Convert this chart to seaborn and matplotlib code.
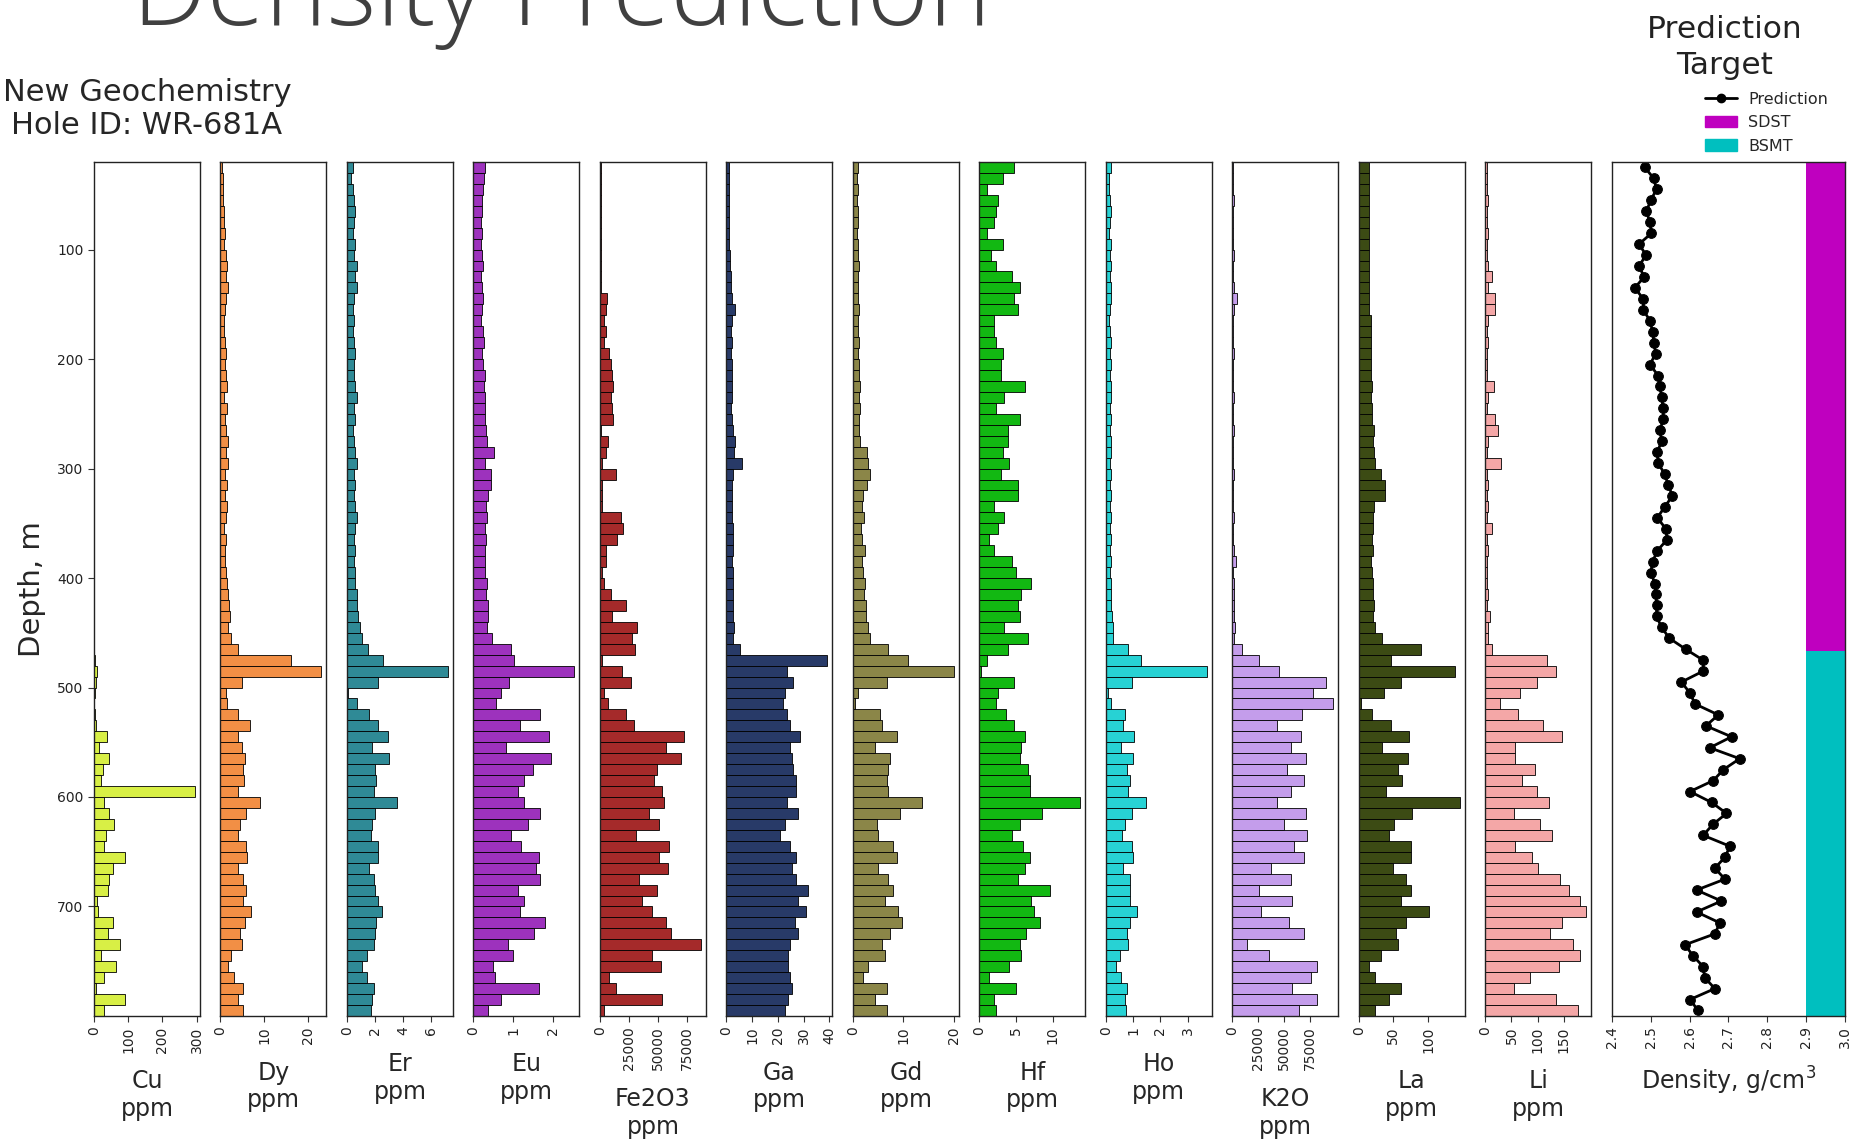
import numpy as np
import pandas as pd
import matplotlib
matplotlib.use("Agg")
import matplotlib.pyplot as plt
import seaborn as sns
from matplotlib.lines import Line2D
from matplotlib.patches import Patch

# ---------------- data ----------------
depth = np.arange(25, 800, 10)          # mid-depth of each 10 m sample interval, m

cu = [0] * 45 + [3, 10, 5, 2, 0, 2, 5, 38, 15, 45, 25, 20, 295, 30, 45, 60, 35, 30, 90, 55,
                 45, 40, 10, 12, 55, 40, 75, 20, 65, 30, 5, 90, 30]
dy = [0.3, 0.5, 0.5, 0.6, 0.7, 0.8, 1.0, 0.8, 1.2, 1.5, 1.3, 1.8, 1.2, 1.0, 0.8, 0.9, 1.0, 1.3, 1.0, 1.2,
      1.5, 0.9, 1.6, 1.0, 1.3, 1.7, 1.2, 1.8, 1.1, 1.4, 1.0, 1.5, 1.2, 0.9, 1.3, 1.1, 1.0, 1.2, 1.4, 1.8,
      2.0, 2.2, 1.8, 2.5,
      4, 16, 23, 5, 1.2, 1.5, 4, 6.7, 4, 5, 5.5, 5.1, 5.4, 4, 9, 5.9, 4.4, 4, 5.9, 6.1,
      4, 5.1, 5.9, 5.1, 7, 5.5, 4.4, 5, 2.5, 1.7, 3.2, 5.1, 4, 5.1]
er = [0.4, 0.3, 0.4, 0.5, 0.6, 0.5, 0.4, 0.6, 0.5, 0.7, 0.6, 0.7, 0.5, 0.4, 0.5, 0.4, 0.5, 0.6, 0.5, 0.5,
      0.6, 0.7, 0.5, 0.6, 0.4, 0.5, 0.6, 0.7, 0.5, 0.6, 0.5, 0.6, 0.7, 0.6, 0.5, 0.6, 0.5, 0.6, 0.6, 0.7,
      0.7, 0.8, 0.9, 1.1,
      1.5, 2.6, 7.2, 2.2, 0.1, 0.7, 1.6, 2.2, 2.9, 1.8, 3.0, 2.0, 2.1, 1.9, 3.6, 2.0, 1.8, 1.7, 2.2, 2.2,
      1.6, 1.9, 2.0, 2.2, 2.5, 2.1, 2.0, 1.9, 1.4, 1.1, 1.4, 1.9, 1.8, 1.7]
eu = [0.3, 0.26, 0.24, 0.22, 0.22, 0.2, 0.22, 0.2, 0.22, 0.24, 0.2, 0.22, 0.25, 0.22, 0.2, 0.24, 0.26, 0.22,
      0.25, 0.28, 0.26, 0.3, 0.28, 0.3, 0.32, 0.35, 0.52, 0.3, 0.45, 0.44, 0.36, 0.32, 0.34, 0.3, 0.32, 0.3,
      0.28, 0.3, 0.34, 0.33, 0.36, 0.38, 0.35, 0.46,
      0.96, 1.02, 2.55, 0.9, 0.7, 0.58, 1.67, 1.17, 1.92, 0.83, 1.96, 1.5, 1.29, 1.12, 1.29, 1.69, 1.37, 0.96,
      1.2, 1.65, 1.58, 1.69, 1.12, 1.29, 1.17, 1.81, 1.54, 0.87, 1.0, 0.5, 0.54, 1.65, 0.7, 0.37]
fe2o3 = [1000] * 12 + [5700, 4900, 3500, 4900, 3500, 7800, 9200, 10600, 11200, 9200, 10600, 11000, 600, 7000,
                       5300, 1400, 13500, 2000, 1400, 2000, 17800, 19800, 14900, 5300, 4900, 2000, 3500, 9200,
                       22100, 10600, 32100, 27800, 29800, 2000, 19200, 26400, 3500, 7000, 22100, 29300, 72300,
                       56500, 69400, 49400, 46500, 53700, 55100, 42200, 50800, 30700, 59400, 50800, 58800,
                       33600, 49400, 36400, 44500, 56500, 60800, 86700, 45100, 52200, 7800, 13500, 53100, 3500]
ga = [1.0, 1.0, 1.0, 0.9, 1.0, 1.1, 1.0, 1.2, 1.4, 1.5, 1.6, 1.8, 2.0, 3.4, 2.2, 1.8, 2.0, 1.9, 2.1, 2.2,
      2.0, 2.1, 1.9, 2.2, 2.4, 3.4, 3.0, 5.9, 2.4, 2.2, 2.0, 2.1, 2.3, 2.5, 2.6, 2.4, 2.3, 2.5, 2.6, 2.4,
      2.7, 2.5, 2.8, 2.7,
      5.3, 39.2, 23.4, 26, 22.7, 22, 23.4, 24.6, 28.5, 24.6, 25.3, 26, 27.2, 27.2, 23.4, 27.9, 22.7, 20.8,
      24.6, 27.2, 25.3, 27.2, 31.7, 27.9, 31.1, 26.6, 27.9, 24.6, 24, 24, 24.6, 25.3, 24, 22.7]
gd = [1.0, 0.9, 1.0, 0.8, 1.0, 1.1, 0.9, 1.0, 1.0, 1.2, 1.0, 1.1, 1.0, 1.2, 1.0, 1.1, 1.2, 1.0, 1.3, 1.2,
      1.4, 1.3, 1.5, 1.2, 1.3, 1.5, 2.7, 3.0, 3.3, 2.8, 2.0, 1.8, 2.2, 1.7, 1.9, 2.3, 1.8, 2.0, 2.4, 2.2,
      2.5, 2.6, 3.0, 3.3,
      7, 11, 20, 6.7, 1, 0.5, 5.3, 5.7, 8.7, 4.3, 7.3, 7, 6.7, 7, 13.7, 9.3, 4.7, 5, 8, 8.7,
      5, 7, 8, 6.3, 9, 9.7, 7.3, 5.7, 6.3, 3, 2, 6.7, 4.3, 6.7]
hf = [4.8, 3.2, 1.1, 2.5, 2.3, 2.0, 1.1, 3.2, 1.6, 2.3, 4.4, 5.6, 4.8, 5.3, 2.0, 2.0, 2.3, 3.2, 3.0, 3.0,
      6.2, 3.4, 2.3, 5.6, 3.9, 3.9, 3.2, 4.1, 3.0, 5.3, 5.3, 2.0, 3.3, 2.5, 1.3, 2.0, 4.4, 5.0, 7.1, 5.7,
      5.3, 5.5, 3.4, 6.7, 3.9, 1.1, 0.2, 4.8, 2.5, 2.3, 3.7, 4.8, 6.2, 5.7, 5.6, 6.7, 6.9, 6.9, 13.8, 8.5,
      5.5, 4.4, 6.0, 6.9, 6.2, 5.3, 9.7, 7.1, 7.4, 8.3, 6.4, 5.5, 5.7, 4.1, 1.3, 5.0, 2.0, 2.3]
ho = [0.2, 0.1, 0.1, 0.15, 0.2, 0.15, 0.1, 0.2, 0.15, 0.2, 0.15, 0.2, 0.2, 0.15, 0.1, 0.15, 0.2, 0.15, 0.2,
      0.15, 0.2, 0.2, 0.15, 0.2, 0.15, 0.2, 0.2, 0.15, 0.2, 0.15, 0.2, 0.15, 0.2, 0.15, 0.2, 0.15, 0.2, 0.15,
      0.2, 0.2, 0.2, 0.22, 0.25, 0.26,
      0.82, 1.3, 3.7, 0.94, 0.07, 0.2, 0.7, 0.63, 1.04, 0.57, 1.0, 0.76, 0.88, 0.82, 1.48, 0.94, 0.7, 0.6,
      0.94, 1.0, 0.63, 0.88, 0.88, 0.88, 1.13, 0.88, 0.76, 0.82, 0.51, 0.38, 0.57, 0.76, 0.7, 0.72]
k2o = [800, 900, 1000, 1200, 1000, 1100, 900, 1000, 1200, 1100, 1000, 1200, 4800, 1200, 1000, 1100, 1000,
       1200, 1100, 1000, 1100, 1200, 1000, 1100, 1200, 1000, 1100, 1000, 1200, 1100, 1000, 1100, 1200, 1000,
       1100, 1200, 3500, 1100, 1200, 1500, 1400, 1500, 2500, 1600,
       9700, 26000, 45000, 90700, 77800, 98000, 68000, 43700, 66400, 56700, 71300, 53500, 69700, 56700,
       43700, 71300, 50200, 72900, 60000, 69700, 37300, 56700, 26000, 58300, 27500, 55000, 69700, 14500,
       35600, 82600, 76100, 58300, 82600, 64800]
la = [15, 14, 14, 15, 14, 15, 14, 15, 15, 14, 15, 14, 15, 15, 17, 17, 18, 17, 18, 18, 19, 18, 19, 19,
      22, 21, 22, 23, 32, 38, 38, 22, 20, 21, 19, 20, 18, 19, 20, 21, 22, 20, 24, 34,
      90, 46, 139, 61, 36.5, 2.4, 19.5, 46, 73, 34, 70.6, 56, 63, 39, 146, 77, 51, 44, 75.5, 75.5,
      48.7, 68, 75.5, 61, 101, 68, 53.6, 56, 31.7, 14.6, 24, 61, 44, 24]
li = [4, 3, 4, 5, 3, 4, 5, 4, 4, 6, 12, 5, 18, 18, 5, 4, 5, 4, 3, 4, 17, 5, 4, 18, 25, 5, 4, 30, 4, 5,
      4, 5, 4, 12, 4, 5, 4, 3, 4, 5, 4, 8, 5, 4.5,
      12, 117, 136, 98, 66, 28, 63, 111, 146, 57, 57, 95, 70, 98, 121, 54, 105, 127, 57, 89,
      101, 143, 159, 181, 193, 146, 124, 168, 181, 140, 85, 54, 136, 178]

density_pred = [2.485, 2.508, 2.515, 2.500, 2.489, 2.498, 2.502, 2.470, 2.488, 2.470,
                2.483, 2.459, 2.481, 2.481, 2.498, 2.505, 2.508, 2.513, 2.498, 2.519,
                2.524, 2.528, 2.532, 2.532, 2.524, 2.528, 2.517, 2.519, 2.536, 2.545,
                2.556, 2.536, 2.517, 2.539, 2.542, 2.517, 2.505, 2.500, 2.511, 2.513,
                2.515, 2.515, 2.528, 2.548, 2.590, 2.635, 2.635, 2.579, 2.601, 2.614,
                2.674, 2.642, 2.708, 2.652, 2.729, 2.687, 2.661, 2.601, 2.657, 2.695,
                2.660, 2.635, 2.704, 2.691, 2.665, 2.691, 2.618, 2.682, 2.618, 2.678,
                2.665, 2.588, 2.609, 2.635, 2.639, 2.665, 2.601, 2.622]

target_names = ["SDST", "BSMT"]
target_top = [20, 467]
target_bottom = [467, 800]

elements = ["Cu", "Dy", "Er", "Eu", "Fe2O3", "Ga", "Gd", "Hf", "Ho", "K2O", "La", "Li"]
panel_values = [cu, dy, er, eu, fe2o3, ga, gd, hf, ho, k2o, la, li]
panel_ticks = [[0, 100, 200, 300], [0, 10, 20], [0, 2, 4, 6], [0, 1, 2], [0, 25000, 50000, 75000],
               [0, 10, 20, 30, 40], [0, 10, 20], [0, 5, 10], [0, 1, 2, 3], [0, 25000, 50000, 75000],
               [0, 50, 100], [0, 50, 100, 150]]
depth_ticks = [100, 200, 300, 400, 500, 600, 700]
density_ticks = [2.4, 2.5, 2.6, 2.7, 2.8, 2.9, 3.0]

panel_colors = ["#d8ef45", "#f28f45", "#2f8a96", "#9d32bd", "#a52a2a", "#283a68", "#8b8648",
                "#12b812", "#27d2d4", "#c49deb", "#3c4b14", "#f4a7a7"]
target_colors = ["#bf00bf", "#00bfbf"]

df = pd.DataFrame({"depth": depth, **dict(zip(elements, panel_values))})

# ---------------- figure ----------------
sns.set_theme(style="ticks")
plt.rcParams['font.family'] = ['DejaVu Sans']

W, H = 1853, 1145
fig, axes = plt.subplots(1, 13, sharey=True, figsize=(W / 100, H / 100), dpi=100,
                         gridspec_kw=dict(width_ratios=[1] * 12 + [2.2], wspace=0.177))
fig.subplots_adjust(left=0.0507, right=0.9957, top=0.8585, bottom=0.1127)

for i, (ax, el, col, ticks) in enumerate(zip(axes[:12], elements, panel_colors, panel_ticks)):
    sns.histplot(data=df, y="depth", weights=el, binwidth=10, binrange=(20, 800), color=col,
                 edgecolor="black", linewidth=0.6, alpha=1, ax=ax)
    ax.set_xticks(ticks)
    ax.set_xticklabels([str(t) for t in ticks], rotation=90, fontsize=10)
    ax.set_xlabel(el + "\nppm", fontsize=17, labelpad=12)
    ax.set_ylabel("")
    if i > 0:
        ax.tick_params(axis="y", left=False, labelleft=False)

axd = axes[12]
for name, top, bot, col in zip(target_names, target_top, target_bottom, target_colors):
    axd.fill_betweenx([top, bot], 2.9, 3.0, color=col, linewidth=0)
sns.lineplot(x=density_pred, y=depth, sort=False, estimator=None, marker="o", markersize=7,
             markeredgecolor="black", color="black", linewidth=2, ax=axd)
axd.set_xlim(2.4, 3.0)
axd.set_xticks(density_ticks)
axd.set_xticklabels([f"{t:.1f}" for t in density_ticks], rotation=90, fontsize=10)
axd.set_xlabel("Density, g/cm$^3$", fontsize=17, labelpad=12)
axd.set_ylabel("")
axd.tick_params(axis="y", left=False, labelleft=False)

ax0 = axes[0]
ax0.set_ylim(800, 20)
ax0.set_yticks(depth_ticks)
ax0.set_yticklabels([str(t) for t in depth_ticks], fontsize=10)
ax0.set_ylabel("Depth, m", fontsize=21, labelpad=8)
ax0.set_title("New Geochemistry\nHole ID: WR-681A", fontsize=22, pad=20)

for ax in axes:
    for sp in ax.spines.values():
        sp.set_visible(True)
        sp.set_linewidth(1.0)
        sp.set_color("#222222")
    ax.tick_params(axis="both", length=4, width=0.8, color="#333333", labelcolor="#222222")

# legend: title centred above the entries
fig.text(1725 / W, 1 - 15 / H, "Prediction\nTarget", fontsize=22.5, ha="center", va="top",
         multialignment="center", linespacing=1.3, color="#222222")
handles = [Line2D([], [], color="black", marker="o", lw=2, markersize=6, label="Prediction"),
           Patch(color=target_colors[0], label=target_names[0]),
           Patch(color=target_colors[1], label=target_names[1])]
fig.legend(handles=handles, loc="upper left", bbox_to_anchor=(1705 / W, 1 - 92 / H),
           frameon=False, fontsize=11.5, labelspacing=0.52, handlelength=2.0,
           handletextpad=0.7, borderpad=0, borderaxespad=0)

title = fig.text(132 / W, 1 - 25 / H, "Density Prediction", fontsize=80, color="#404040",
                 family=["Open Sans", "DejaVu Sans"], fontweight="light", ha="left", va="baseline")
fig.canvas.draw()
w = title.get_window_extent().width
title.set_fontsize(80 * 860 / w)

fig.savefig("out.png", dpi=100)
